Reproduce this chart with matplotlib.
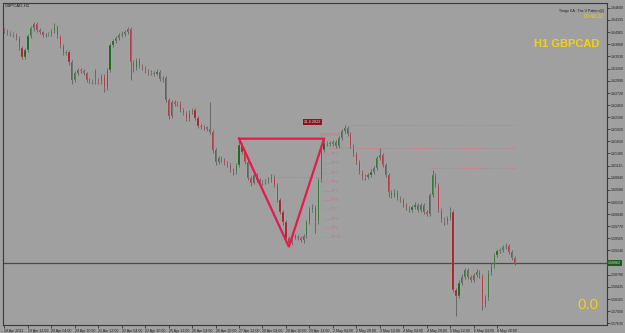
import matplotlib
matplotlib.use("Agg")
import matplotlib.pyplot as plt
import numpy as np

# ---------------- data (2-hour sampling of the H1 chart) ----------------
first_open = 1.6412
closes = [
    1.6409, 1.6405, 1.6403, 1.6400, 1.6394, 1.6372, 1.6352, 1.6367, 1.6398, 1.6416,
    1.6425, 1.6411, 1.6407, 1.6400, 1.6401, 1.6403, 1.6409, 1.6420, 1.6398, 1.6376,
    1.6361, 1.6363, 1.6341, 1.6301, 1.6316, 1.6323, 1.6321, 1.6316, 1.6301, 1.6299,
    1.6296, 1.6301, 1.6296, 1.6310, 1.6283, 1.6323, 1.6378, 1.6387, 1.6394, 1.6400,
    1.6403, 1.6407, 1.6414, 1.6341, 1.6327, 1.6345, 1.6332, 1.6327, 1.6321, 1.6316,
    1.6317, 1.6315, 1.6318, 1.6303, 1.6305, 1.6257, 1.6221, 1.6252, 1.6248, 1.6250,
    1.6234, 1.6228, 1.6215, 1.6230, 1.6234, 1.6217, 1.6199, 1.6197, 1.6196, 1.6193,
    1.6186, 1.6146, 1.6120, 1.6128, 1.6124, 1.6117, 1.6113, 1.6102, 1.6098, 1.6113,
    1.6157, 1.6142, 1.6120, 1.6085, 1.6074, 1.6091, 1.6080, 1.6074, 1.6075, 1.6076,
    1.6080, 1.6087, 1.6069, 1.6036, 1.6009, 1.5987, 1.5952, 1.5941, 1.5956, 1.5954,
    1.5952, 1.5948, 1.5956, 1.5987, 1.6014, 1.6020, 1.5987, 1.6080, 1.6146, 1.6162,
    1.6161, 1.6160, 1.6164, 1.6155, 1.6173, 1.6188, 1.6195, 1.6182, 1.6155, 1.6137,
    1.6120, 1.6098, 1.6085, 1.6087, 1.6091, 1.6098, 1.6106, 1.6128, 1.6135, 1.6113,
    1.6091, 1.6054, 1.6045, 1.6054, 1.6040, 1.6036, 1.6025, 1.6018, 1.6014, 1.6020,
    1.6025, 1.6014, 1.6024, 1.6009, 1.6005, 1.6047, 1.6091, 1.6069, 1.6014, 1.5992,
    1.5987, 1.5996, 1.6009, 1.5837, 1.5824, 1.5853, 1.5866, 1.5881, 1.5865, 1.5859,
    1.5870, 1.5877, 1.5868, 1.5804, 1.5819, 1.5875, 1.5890, 1.5914, 1.5923, 1.5925,
    1.5932, 1.5934, 1.5921, 1.5908, 1.5896,
]
highs = [
    1.6416, 1.6413, 1.6410, 1.6407, 1.6404, 1.6398, 1.6375, 1.6372, 1.6403, 1.6421,
    1.6430, 1.6428, 1.6415, 1.6410, 1.6405, 1.6407, 1.6413, 1.6426, 1.6423, 1.6401,
    1.6380, 1.6368, 1.6366, 1.6345, 1.6320, 1.6328, 1.6327, 1.6325, 1.6319, 1.6305,
    1.6303, 1.6325, 1.6305, 1.6314, 1.6313, 1.6327, 1.6383, 1.6392, 1.6399, 1.6405,
    1.6408, 1.6412, 1.6418, 1.6417, 1.6345, 1.6350, 1.6349, 1.6336, 1.6331, 1.6325,
    1.6322, 1.6321, 1.6325, 1.6322, 1.6310, 1.6309, 1.6261, 1.6257, 1.6256, 1.6255,
    1.6254, 1.6238, 1.6232, 1.6235, 1.6239, 1.6238, 1.6221, 1.6203, 1.6201, 1.6200,
    1.6252, 1.6190, 1.6150, 1.6133, 1.6133, 1.6128, 1.6121, 1.6117, 1.6106, 1.6118,
    1.6171, 1.6162, 1.6146, 1.6124, 1.6089, 1.6096, 1.6095, 1.6084, 1.6080, 1.6081,
    1.6087, 1.6093, 1.6090, 1.6073, 1.6040, 1.6013, 1.5991, 1.5956, 1.5962, 1.5960,
    1.5958, 1.5956, 1.5961, 1.5992, 1.6019, 1.6027, 1.6024, 1.6085, 1.6151, 1.6171,
    1.6167, 1.6166, 1.6169, 1.6168, 1.6178, 1.6193, 1.6201, 1.6199, 1.6186, 1.6159,
    1.6141, 1.6124, 1.6102, 1.6092, 1.6096, 1.6103, 1.6111, 1.6133, 1.6151, 1.6139,
    1.6117, 1.6095, 1.6058, 1.6059, 1.6058, 1.6045, 1.6040, 1.6029, 1.6023, 1.6025,
    1.6030, 1.6029, 1.6029, 1.6028, 1.6013, 1.6052, 1.6102, 1.6095, 1.6073, 1.6018,
    1.5997, 1.6001, 1.6020, 1.6013, 1.5841, 1.5858, 1.5871, 1.5886, 1.5885, 1.5869,
    1.5875, 1.5882, 1.5881, 1.5872, 1.5825, 1.5880, 1.5896, 1.5919, 1.5928, 1.5930,
    1.5937, 1.5941, 1.5938, 1.5925, 1.5912,
]
lows = [
    1.6404, 1.6401, 1.6398, 1.6395, 1.6389, 1.6367, 1.6347, 1.6348, 1.6362, 1.6393,
    1.6410, 1.6406, 1.6402, 1.6396, 1.6395, 1.6397, 1.6399, 1.6405, 1.6393, 1.6371,
    1.6356, 1.6356, 1.6335, 1.6292, 1.6297, 1.6312, 1.6317, 1.6311, 1.6297, 1.6294,
    1.6292, 1.6292, 1.6291, 1.6292, 1.6274, 1.6279, 1.6318, 1.6373, 1.6383, 1.6390,
    1.6396, 1.6399, 1.6403, 1.6301, 1.6318, 1.6322, 1.6327, 1.6322, 1.6316, 1.6311,
    1.6311, 1.6310, 1.6311, 1.6298, 1.6297, 1.6252, 1.6215, 1.6217, 1.6243, 1.6243,
    1.6229, 1.6223, 1.6210, 1.6211, 1.6226, 1.6212, 1.6194, 1.6192, 1.6191, 1.6188,
    1.6181, 1.6140, 1.6113, 1.6115, 1.6119, 1.6112, 1.6108, 1.6097, 1.6091, 1.6094,
    1.6109, 1.6137, 1.6115, 1.6080, 1.6067, 1.6070, 1.6075, 1.6069, 1.6069, 1.6070,
    1.6072, 1.6076, 1.6064, 1.6031, 1.6004, 1.5981, 1.5946, 1.5932, 1.5937, 1.5949,
    1.5947, 1.5943, 1.5941, 1.5951, 1.5983, 1.6009, 1.5963, 1.5982, 1.6075, 1.6141,
    1.6155, 1.6154, 1.6155, 1.6150, 1.6151, 1.6169, 1.6184, 1.6177, 1.6150, 1.6132,
    1.6115, 1.6093, 1.6080, 1.6080, 1.6082, 1.6086, 1.6093, 1.6101, 1.6123, 1.6108,
    1.6086, 1.6043, 1.6040, 1.6041, 1.6035, 1.6031, 1.6020, 1.6013, 1.6009, 1.6010,
    1.6015, 1.6009, 1.6010, 1.6004, 1.5999, 1.6001, 1.6042, 1.6064, 1.6009, 1.5986,
    1.5981, 1.5982, 1.5991, 1.5832, 1.5778, 1.5819, 1.5848, 1.5861, 1.5860, 1.5854,
    1.5854, 1.5865, 1.5863, 1.5793, 1.5798, 1.5814, 1.5870, 1.5885, 1.5909, 1.5918,
    1.5920, 1.5927, 1.5916, 1.5903, 1.5891,
]
opens = [first_open] + closes[:-1]
bar_hours = [2 * i for i in range(len(closes))]   # hours since 18 Apr 20:00

bid_price = 1.58962

y_tick_values = [1.64600, 1.64335, 1.64065, 1.63800, 1.63530, 1.63260, 1.62990,
                 1.62720, 1.62450, 1.62180, 1.61920, 1.61650, 1.61385, 1.61115,
                 1.60845, 1.60580, 1.60310, 1.60040, 1.59770, 1.59505, 1.59240,
                 1.58700, 1.58435, 1.58165, 1.57900, 1.57635]
x_tick_hours = [16 * k for k in range(22)]
x_tick_labels = ["18 Apr 2022", "19 Apr 12:00", "20 Apr 04:00", "20 Apr 20:00",
                 "21 Apr 12:00", "22 Apr 04:00", "22 Apr 20:00", "25 Apr 12:00",
                 "26 Apr 04:00", "26 Apr 20:00", "27 Apr 12:00", "28 Apr 04:00",
                 "28 Apr 20:00", "29 Apr 12:00", "2 May 04:00", "2 May 20:00",
                 "3 May 12:00", "4 May 04:00", "4 May 20:00", "5 May 12:00",
                 "6 May 04:00", "6 May 20:00"]

# V pattern points (hour, price)
pattern_hours = [160, 194, 218, 160]
pattern_prices = [1.6171, 1.5932, 1.6171, 1.6171]

tp_labels = ["TP 1", "TP 2", "TP 3", "TP 4", "TP 5", "TP 6", "TP 7", "TP 8", "TP 9", "TP 10"]
tp_prices = [1.6137, 1.6117, 1.6095, 1.6076, 1.6056, 1.6036, 1.6016, 1.5994, 1.5974, 1.5954]

level_lines = [  # (price, start hour, end hour)
    (1.6201, 236, 348),
    (1.6151, 222, 348),
    (1.6106, 290, 348),
]

# ---------------- style ----------------
BG = "#a0a0a0"
UP = "#0b5e0b"
DN = "#b00c1c"
WICK = "#686868"
PAT = "#e8194b"
YEL = "#f4d20a"

fig = plt.figure(figsize=(6.25, 3.33), dpi=100, facecolor=BG)
ax = fig.add_axes([3 / 625, 8 / 333, 604 / 625, 322 / 333])
ax.set_facecolor(BG)
ax.set_xlim(-1, 411)
ax.set_ylim(1.57591, 1.64710)

h = np.array(bar_hours, dtype=float)
o = np.array(opens); c = np.array(closes)
hi = np.array(highs); lo = np.array(lows)

ax.vlines(h, lo, hi, color=WICK, lw=0.7, zorder=2)
body_lo = np.minimum(o, c)
body_h = np.maximum(np.abs(c - o), 0.00006)
cols = [UP if cc >= oo else DN for oo, cc in zip(o, c)]
ax.bar(h, body_h, bottom=body_lo, width=0.8, color=cols, edgecolor="#b8b8b8",
       linewidth=0.2, zorder=3)

# bid line
ax.axhline(bid_price, color="#4a4a4a", lw=0.9, zorder=1)

# pattern
ax.plot(pattern_hours, pattern_prices, color=PAT, lw=1.6, zorder=5,
        solid_joinstyle="miter")

for p, h0, h1 in level_lines:
    ax.plot([h0, h1], [p, p], color="#d0707a", lw=0.6, ls=(0, (1, 1.5)), zorder=4)
ax.plot([185, 215], [1.6087, 1.6087], color="#8a8a8a", lw=0.6, ls=(0, (1, 1.5)), zorder=4)

for lab, p in zip(tp_labels, tp_prices):
    ax.plot([217, 222], [p, p], color="#d0707a", lw=0.5, ls=(0, (1, 1.2)), zorder=4)
    ax.text(223, p, lab, fontsize=2.6, color="#d46a78", va="center", ha="left",
            family="Liberation Sans", zorder=6)
ax.text(215, 1.6180, "STOP LOSS", fontsize=2.6, color="#d46a78", va="center",
        ha="left", family="Liberation Sans", zorder=6)
ax.text(204, 1.6208, "21.4.2022", fontsize=2.8, color="#f0d0d0", va="center",
        ha="left", family="Liberation Sans", zorder=7,
        bbox=dict(boxstyle="square,pad=0.25", fc="#8a1420", ec="none"))

# axes look
for s in ax.spines.values():
    s.set_color("#3a3a3a"); s.set_linewidth(0.8)
ax.yaxis.tick_right()
ax.set_yticks(y_tick_values)
ax.set_yticklabels([f"{v:.5f}" for v in y_tick_values], fontsize=2.6,
                   family="Liberation Sans")
ax.set_xticks(x_tick_hours)
ax.set_xticklabels(x_tick_labels, fontsize=2.6, family="Liberation Sans", ha="left")
ax.tick_params(axis="both", length=2, width=0.5, colors="#202020", pad=1)
ax.tick_params(axis="x", direction="out")

# current price box
ax.text(1.0 + 1 / 604, bid_price, f"{bid_price:.5f}", transform=ax.get_yaxis_transform(),
        fontsize=2.6, color="#d8d8d8", va="center", ha="left", family="Liberation Sans",
        zorder=8, bbox=dict(boxstyle="square,pad=0.3", fc="#1d5a1d", ec="none"), clip_on=False)

# overlay texts
fig.text(5 / 625, 1 - 6 / 333, "GBPCAD,H1", fontsize=3.2, color="#202020",
         va="center", ha="left", family="Liberation Sans")
fig.text(604 / 625, 1 - 11 / 333, "Triage EA : The V Pattern(2)", fontsize=2.6,
         color="#202020", va="center", ha="right", family="Liberation Sans")
fig.text(604 / 625, 1 - 17 / 333, "00:40:22", fontsize=3.6, color=YEL,
         va="center", ha="right", family="Liberation Sans")
fig.text(600 / 625, 1 - 44 / 333, "H1 GBPCAD", fontsize=8, color=YEL, weight="bold",
         va="center", ha="right", family="Liberation Sans")
fig.text(598 / 625, 1 - 305 / 333, "0.0", fontsize=11, color=YEL,
         va="center", ha="right", family="Liberation Sans")

fig.savefig("out.png", dpi=100, facecolor=BG)
